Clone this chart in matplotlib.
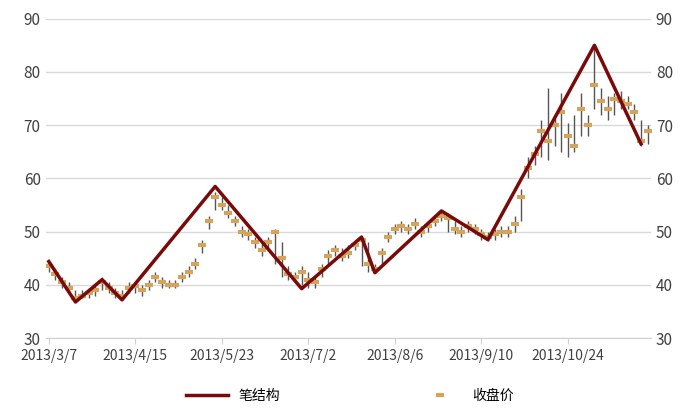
import numpy as np
import matplotlib.pyplot as plt

plt.rcParams['font.family'] = ['Noto Sans CJK SC', 'DejaVu Sans']

tick_labels = ["2013/3/7", "2013/4/15", "2013/5/23", "2013/7/2", "2013/8/6", "2013/9/10", "2013/10/24"]

close = [43.5, 42, 40.5, 39.5, 37.5, 38, 38.5, 39, 40.5, 39.5, 38.5, 38,
         39.5, 39.8, 39, 40, 41.5, 40.5, 40, 40, 41.5,
         42.5, 44, 47.5, 52, 56.5, 55, 53.5, 52, 50, 49.5, 48, 46.5, 48, 50, 45,
         42, 41.5, 42.5, 41, 40.5, 43, 45.5, 46.5, 45.5, 46, 47.5, 48.5, 44, 43,
         46, 49, 50.5, 51, 50.5, 51.5, 50, 51, 52, 53, 52.5, 50.5, 50, 51, 50.5,
         49.5, 49, 49.5, 50, 50, 51.5, 56.5, 62, 64.5, 69, 67, 70, 72.5, 68, 66,
         73, 70, 77.5, 74.5, 73, 75, 74.5, 74, 72.5, 67, 69]
high = [44.5, 43, 41.5, 40.5, 39, 39, 39.5, 40, 41.5, 40.5, 39.5, 39,
        40.5, 40.5, 40, 41, 42.5, 41.5, 41, 41, 42.5,
        43.5, 45, 48.5, 53, 57.5, 56.5, 55, 53, 51, 50.5, 49, 48, 49, 50.5, 48,
        43.5, 42.5, 43.5, 42.5, 41.5, 44, 46.5, 47.5, 47, 47.5, 48.5, 49, 48, 44,
        47, 50, 51.5, 52, 51.5, 52.5, 51, 52, 53, 54, 53.5, 52, 51, 52, 51.5,
        50.5, 50, 50.5, 51, 51, 53, 58, 64, 66, 71, 77, 72, 76, 70.5, 72,
        76, 72, 85, 77, 75.5, 76, 76.5, 75.5, 74, 71, 70]
low = [42.5, 41, 39.5, 38.5, 37, 37.5, 37.5, 38, 39, 38.5, 37.5, 37.2,
       38.5, 38.5, 38, 39, 40.5, 39.5, 39.5, 39.5, 40.5,
       41.5, 43, 46, 50.5, 54, 54, 52.5, 51, 49, 48.5, 47, 45.5, 46.5, 44, 41.5,
       41, 40.5, 40, 39.5, 39.5, 41.5, 44, 45.5, 44.5, 45, 46.5, 43.5, 42.5, 42.3,
       44, 48, 49.5, 50, 49.5, 50.5, 49, 50, 51, 52, 50, 49.5, 49, 50, 49.5,
       48.5, 48.3, 48.5, 49, 49, 50, 52, 60, 62.5, 64, 63.5, 66, 65, 64, 65,
       68, 68, 73, 72, 71, 72, 73, 73, 71, 66, 66.5]

pivot_idx = [0, 4, 8, 11, 25, 38, 47, 49, 59, 66, 82, 89]
pivot_val = [44.4, 36.8, 41, 37.2, 58.5, 39.3, 49, 42.3, 53.9, 48.5, 85, 66.5]

x = np.arange(len(close))
fig, ax = plt.subplots(figsize=(7, 4.15), dpi=100)
fig.subplots_adjust(left=0.065, right=0.93, top=0.955, bottom=0.185)

ax.vlines(x, low, high, color='#555555', lw=1)
ax.plot(x, close, ls='none', marker='_', ms=6, mew=3, color='#d4a35c', label='收盘价')
ax.plot(pivot_idx, pivot_val, color='#7a0a0a', lw=2.5, label='笔结构')

ax.set_ylim(30, 90)
ax.set_xlim(-0.5, len(close) - 0.5)
ax.set_yticks(range(30, 91, 10))
ax.set_xticks(np.arange(0, 79, 13))
ax.set_xticklabels(tick_labels)
ax.grid(axis='y', color='#d9d9d9', lw=1)
ax.set_axisbelow(True)
for s in ['top', 'right', 'left']:
    ax.spines[s].set_visible(False)
ax.spines['bottom'].set_color('#d0d0d0')
ax.tick_params(axis='x', colors='#d0d0d0', labelcolor='#404040', labelsize=10, length=4)
ax.tick_params(axis='y', length=0, labelsize=11, labelcolor='#404040')

ax2 = ax.twinx()
ax2.set_ylim(30, 90)
ax2.set_yticks(range(30, 91, 10))
for s in ax2.spines.values():
    s.set_visible(False)
ax2.tick_params(axis='y', length=0, labelsize=11, labelcolor='#404040')

h, l = ax.get_legend_handles_labels()
fig.legend(h[::-1], l[::-1], loc='lower center', ncol=2, frameon=False,
           bbox_to_anchor=(0.5, 0.0), columnspacing=10, fontsize=10, handlelength=3)

fig.savefig('out.png')
